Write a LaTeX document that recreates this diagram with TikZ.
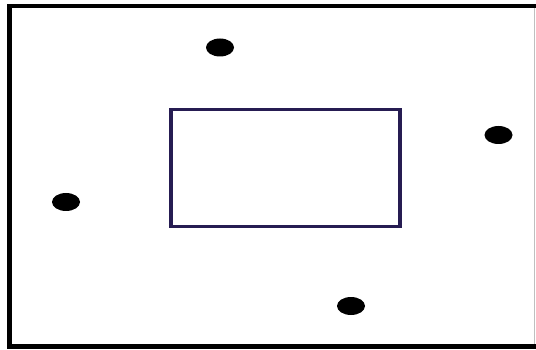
\documentclass[tikz,border=0pt]{standalone}
\begin{document}
\begin{tikzpicture}[x=1pt,y=-1pt,
  frame/.style={draw=black,line width=4.5pt},
  inner/.style={draw=innerblue,line width=3.8pt},
  dot/.style={fill=black,draw=none}]
\definecolor{innerblue}{RGB}{38,28,82}
\useasboundingbox (0,0) rectangle (536,350);
\clip (0,0) rectangle (536,350);
\fill[white] (0,0) rectangle (536,350);
\draw[frame] (9.5,6) rectangle (539,346.5);
\draw[black!25,line width=0.6pt] (534,8) -- (534,344);
\draw[inner] (171,109.5) rectangle (400,226.5);
\coordinate (d1) at (220,47.5);
\coordinate (d2) at (498.5,135);
\coordinate (d3) at (66,202);
\coordinate (d4) at (351,306);
\foreach \d in {d1,d2,d3,d4}
  \fill[dot] (\d) ellipse [x radius=14, y radius=9];
\end{tikzpicture}
\end{document}
